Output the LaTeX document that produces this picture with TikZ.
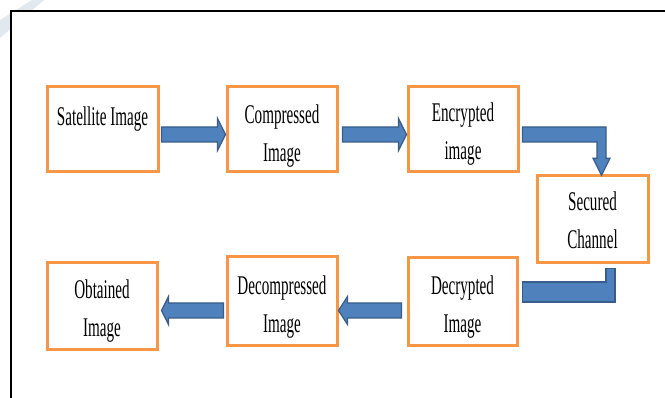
\documentclass[tikz,border=0pt]{standalone}
\usepackage{fontspec}
\newfontfamily\labelfont[FakeStretch=0.56]{Liberation Serif}
\usetikzlibrary{calc,positioning}
\definecolor{boxorange}{HTML}{F79646}
\definecolor{arrowfill}{HTML}{4F81BD}
\definecolor{arrowline}{HTML}{385D8A}
\definecolor{bandgray}{RGB}{226,232,239}
% fixed line height so every caption line sits the same way
\newcommand{\lstrut}{\rule[-6pt]{0pt}{26pt}}

\begin{document}
\begin{tikzpicture}[x=1pt,y=-1pt,
  stage/.style={draw=boxorange, line width=3pt, fill=white, inner sep=0pt,
                minimum width=110pt, minimum height=85pt},
  caption/.style={font={\labelfont\fontsize{27}{38}\selectfont}, align=center,
                  inner sep=0pt, text=black},
  blockarrow/.style={fill=arrowfill, draw=arrowline, line width=1.2pt, line join=miter},
]
\useasboundingbox (0,0) rectangle (665,398);

% page corner band and frame
\fill[bandgray] (32,0) -- (44,0) -- (0,38) -- (0,20) -- cycle;
\fill[white] (11,11) rectangle (665,398);
\draw[line width=2pt] (11,398) -- (11,11) -- (665,11);

% stages
\node[stage, minimum width=111pt] (sat) at (102.5,129.5) {};
\node[stage] (comp) at (282,129.5) {};
\node[stage] (enc) at (463,129.5) {};
\node[stage, minimum width=111pt, minimum height=87pt] (sec) at (592.5,219.5) {};
\node[stage, minimum width=109pt, minimum height=88pt] (dec) at (462.5,302) {};
\node[stage, minimum height=89pt] (decomp) at (282,301.5) {};
\node[stage, minimum height=87pt] (obt) at (102,306.5) {};

% captions
\node[caption, below=20pt of sat.north] (tsat) {Satellite Image\lstrut};
\node[caption, below=18pt of comp.north] (tcomp) {Compressed\lstrut\\Image\lstrut};
\node[caption, below=16pt of enc.north] (tenc) {Encrypted\lstrut\\image\lstrut};
\node[caption, below=16pt of sec.north] (tsec) {Secured\lstrut\\Channel\lstrut};
\node[caption, below=17.5pt of dec.north] (tdec) {Decrypted\lstrut\\Image\lstrut};
\node[caption, below=19pt of decomp.north] (tdecomp) {Decompressed\lstrut\\Image\lstrut};
\node[caption, below=17pt of obt.north] (tobt) {Obtained\lstrut\\Image\lstrut};

% satellite image -> compressed image
\coordinate (a1s) at ($(sat.east)+(2,5)$);
\coordinate (a1t) at ($(comp.west)+(0,5)$);
\path[blockarrow] ($(a1s)+(0,-7.5)$) -- ($(a1t)+(-8,-7.5)$) -- ($(a1t)+(-8,-16)$)
  -- (a1t) -- ($(a1t)+(-8,16)$) -- ($(a1t)+(-8,7.5)$) -- ($(a1s)+(0,7.5)$) -- cycle;

% compressed image -> encrypted image
\coordinate (a2s) at ($(comp.east)+(4,5)$);
\coordinate (a2t) at ($(enc.west)+(0,5)$);
\path[blockarrow] ($(a2s)+(0,-7.5)$) -- ($(a2t)+(-8,-7.5)$) -- ($(a2t)+(-8,-16)$)
  -- (a2t) -- ($(a2t)+(-8,16)$) -- ($(a2t)+(-8,7.5)$) -- ($(a2s)+(0,7.5)$) -- cycle;

% encrypted image -> secured channel (bent)
\coordinate (t3) at ($(sec.north)+(9,0.7)$);
\coordinate (k3) at ($(t3)+(0,-17)$);
\coordinate (h3a) at ($(enc.east)+(3,-2.5)$);
\coordinate (h3b) at ($(enc.east)+(3,12.5)$);
\path[blockarrow] (h3a) -- ($(h3a -| t3)+(4.5,0)$) -- ($(k3)+(4.5,0)$) -- ($(k3)+(8.5,0)$)
  -- (t3) -- ($(k3)+(-8.5,0)$) -- ($(k3)+(-4.5,0)$) -- ($(h3b -| t3)+(-4.5,0)$)
  -- (h3b) -- cycle;

% secured channel -> decrypted image (bent)
\coordinate (v4) at ($(sec.south)+(13.5,4)$);
\coordinate (v4r) at ($(v4)+(9,0)$);
\coordinate (e4) at ($(dec.east)+(4,0)$);
\coordinate (e4t) at ($(e4)+(0,-20)$);
\path[blockarrow] (v4) -- (v4r) -- (v4r |- e4) -- (e4) -- (e4t) -- (v4 |- e4t) -- cycle;

% decrypted image -> decompressed image
\coordinate (a5s) at ($(dec.west)+(-5,8.5)$);
\coordinate (a5t) at ($(decomp.east)+(0,9)$);
\path[blockarrow] ($(a5s)+(0,-7.5)$) -- ($(a5t)+(9,-7.5)$) -- ($(a5t)+(9,-14)$)
  -- (a5t) -- ($(a5t)+(9,14)$) -- ($(a5t)+(9,7.5)$) -- ($(a5s)+(0,7.5)$) -- cycle;

% decompressed image -> obtained image
\coordinate (a6s) at ($(decomp.west)+(-2,9)$);
\coordinate (a6t) at ($(obt.east)+(3,4)$);
\path[blockarrow] ($(a6s)+(0,-7.5)$) -- ($(a6t)+(7,-7.5)$) -- ($(a6t)+(7,-14)$)
  -- (a6t) -- ($(a6t)+(7,14)$) -- ($(a6t)+(7,7.5)$) -- ($(a6s)+(0,7.5)$) -- cycle;
\end{tikzpicture}
\end{document}
